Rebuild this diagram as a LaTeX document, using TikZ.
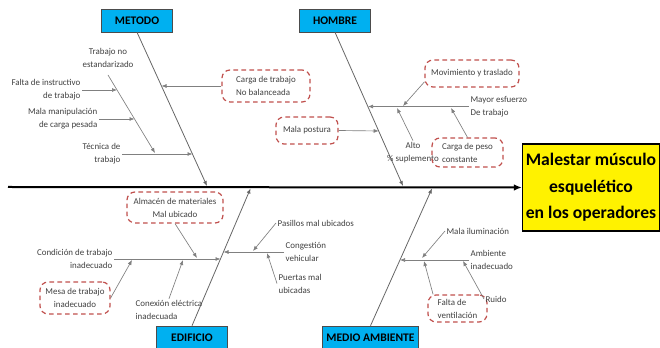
\documentclass[tikz,border=0pt]{standalone}
\usepackage{fontspec}
\setmainfont{Carlito}
\usepackage{tikz}
\usetikzlibrary{arrows.meta}
\tikzset{>={Latex[length=3.75pt,width=3pt]}}
\definecolor{catblue}{HTML}{00B0F0}
\definecolor{dashred}{HTML}{C0504D}
\definecolor{txtgray}{HTML}{404040}

\begin{document}
\begin{tikzpicture}[x=0.75pt,y=-0.75pt,
    category/.style={draw=black!70,fill=catblue,font=\fontsize{8.7}{10}\selectfont\bfseries,
        minimum width=53pt,minimum height=17.25pt,inner xsep=3pt,inner ysep=0pt},
    effect/.style={draw=black,line width=1pt,fill=yellow,align=center,
        font=\fontsize{13.2}{19.9}\selectfont\bfseries,minimum width=102.75pt,minimum height=65.25pt,inner sep=0pt},
    cause/.style={text=txtgray,font=\fontsize{6.7}{9.7}\selectfont,inner sep=1pt},
    causebox/.style={cause,draw=dashred,line width=0.9pt,dash pattern=on 3.5pt off 2.5pt,
        rounded corners=6pt,align=left},
    bone/.style={draw=black!60,line width=0.6pt,->},
    sub/.style={draw=black!50,line width=0.5pt,->},
    spine/.style={draw=black,line width=1.5pt,-{Latex[length=6pt,width=5pt]}}
]
\useasboundingbox (0,0) rectangle (660,348);

% head and spine
\node[effect] (efecto) at (591,187.5) {Malestar músculo\\esquelético\\en los operadores};
\coordinate (tail) at (8,187);
\draw[spine] (tail) -- (efecto.west);

% categories
\node[category] (metodo) at (137,20.5) {METODO};
\node[category] (hombre) at (335,20.5) {HOMBRE};
\node[category] (edificio) at (192,337.5) {EDIFICIO};
\node[category] (medio) at (370.5,337.5) {MEDIO AMBIENTE};

\coordinate (mHead) at (207,186);
\coordinate (hHead) at (403,186);
\coordinate (eHead) at (250.5,188.5);
\coordinate (aHead) at (432,188.5);
\draw[bone] (metodo.south) -- (mHead);
\draw[bone] (hombre.south) -- (hHead);
\draw[bone] (edificio.north) -- (eHead);
\draw[bone] (medio.north) -- (aHead);

% METODO
\node[causebox,minimum width=66pt,minimum height=24pt] (cargatrab) at (266,86) {Carga de trabajo\\No balanceada};
\coordinate (mCarga) at (161.5,86);
\draw[sub] (cargatrab.west) -- (mCarga);
\node[cause,anchor=east,align=right] (tecnica) at (122,154) {Técnica de\\trabajo};
\coordinate (mTec) at (192.5,154);
\draw[sub] (tecnica.east) -- (mTec);
\node[cause,align=center] (noestd) at (108,58) {Trabajo no\\estandarizado};
\coordinate (tne0) at (108,75);
\coordinate (tne1) at (155,153);
\draw[sub] (tne0) -- (tne1);
\node[cause,anchor=east,align=right] (instructivo) at (82,90) {Falta de instructivo\\de trabajo};
\coordinate (tneA) at (117,90);
\draw[sub] (instructivo.east) -- (tneA);
\node[cause,anchor=east,align=right] (manipula) at (99,119) {Mala manipulación\\de carga pesada};
\coordinate (tneB) at (134.5,119);
\draw[sub] (manipula.east) -- (tneB);

% HOMBRE
\node[causebox,minimum width=46.5pt,minimum height=20.25pt] (postura) at (307,130.5) {Mala postura};
\coordinate (hPost) at (378.7,131);
\draw[sub] (postura.east) -- (hPost);
\node[cause,anchor=west,align=left] (esfuerzo) at (469,106.5) {Mayor esfuerzo\\De trabajo};
\coordinate (hMayor) at (368,106.5);
\draw[sub] (esfuerzo.west) -- (hMayor);
\node[causebox,minimum width=70.5pt,minimum height=20.25pt] (traslado) at (472,73.5) {Movimiento y traslado};
\coordinate (mayA) at (403,106);
\draw[sub] (traslado.190) -- (mayA);
\node[cause,align=center] (suplemento) at (413,152.5) {Alto\\\% suplemento};
\coordinate (mayB) at (397,108);
\draw[sub] (suplemento.north) -- (mayB);
\node[causebox,minimum width=53.25pt,minimum height=21.75pt] (pesocte) at (467.5,152.5) {Carga de peso\\constante};
\coordinate (mayC) at (451,108);
\draw[sub] (pesocte.north) -- (mayC);

% EDIFICIO
\node[cause,anchor=east,align=right] (condicion) at (114,259) {Condición de trabajo\\inadecuado};
\coordinate (eCond) at (220.5,259);
\draw[sub] (condicion.east) -- (eCond);
\node[causebox,minimum width=72pt,minimum height=23.25pt,align=center] (almacen) at (175,207.5) {Almacén de materiales\\Mal ubicado};
\coordinate (conA) at (197,258);
\draw[sub] (almacen.south) -- (conA);
\node[causebox,minimum width=52.5pt,minimum height=24pt,align=center] (mesa) at (75,298) {Mesa de trabajo\\inadecuado};
\coordinate (conB) at (132,260);
\draw[sub] (mesa.east) -- (conB);
\node[cause,anchor=west,align=left] (conexion) at (134,310) {Conexión eléctrica\\inadecuada};
\coordinate (conC) at (183,260);
\draw[sub] (conexion.north) -- (conC);
\node[cause,anchor=west,align=left] (congestion) at (284,252) {Congestión\\vehicular};
\coordinate (eCong) at (223.5,252);
\draw[sub] (congestion.west) -- (eCong);
\node[cause,anchor=west] (pasillos) at (276,223) {Pasillos mal ubicados};
\coordinate (cogA) at (253,251);
\draw[sub] (pasillos.west) -- (cogA);
\node[cause,anchor=west,align=left] (puertas) at (277,283.5) {Puertas mal\\ubicadas};
\coordinate (cogB) at (267,253);
\draw[sub] (puertas.west) -- (cogB);

% MEDIO AMBIENTE
\node[cause,anchor=west,align=left] (ambiente) at (469,260) {Ambiente\\inadecuado};
\coordinate (aAmb) at (400,260);
\draw[sub] (ambiente.west) -- (aAmb);
\node[cause,anchor=west] (iluminacion) at (445,231) {Mala iluminación};
\coordinate (ambA) at (422,258);
\draw[sub] (iluminacion.west) -- (ambA);
\node[causebox,minimum width=44.25pt,minimum height=20.25pt] (ventila) at (457.5,308.5) {Falta de\\ventilación};
\coordinate (ambB) at (424,261);
\draw[sub] (ventila.150) -- (ambB);
\node[cause,anchor=west] (ruido) at (484,299) {Ruido};
\coordinate (ambC) at (463,261);
\draw[sub] (ruido.west) -- (ambC);
\end{tikzpicture}
\end{document}
